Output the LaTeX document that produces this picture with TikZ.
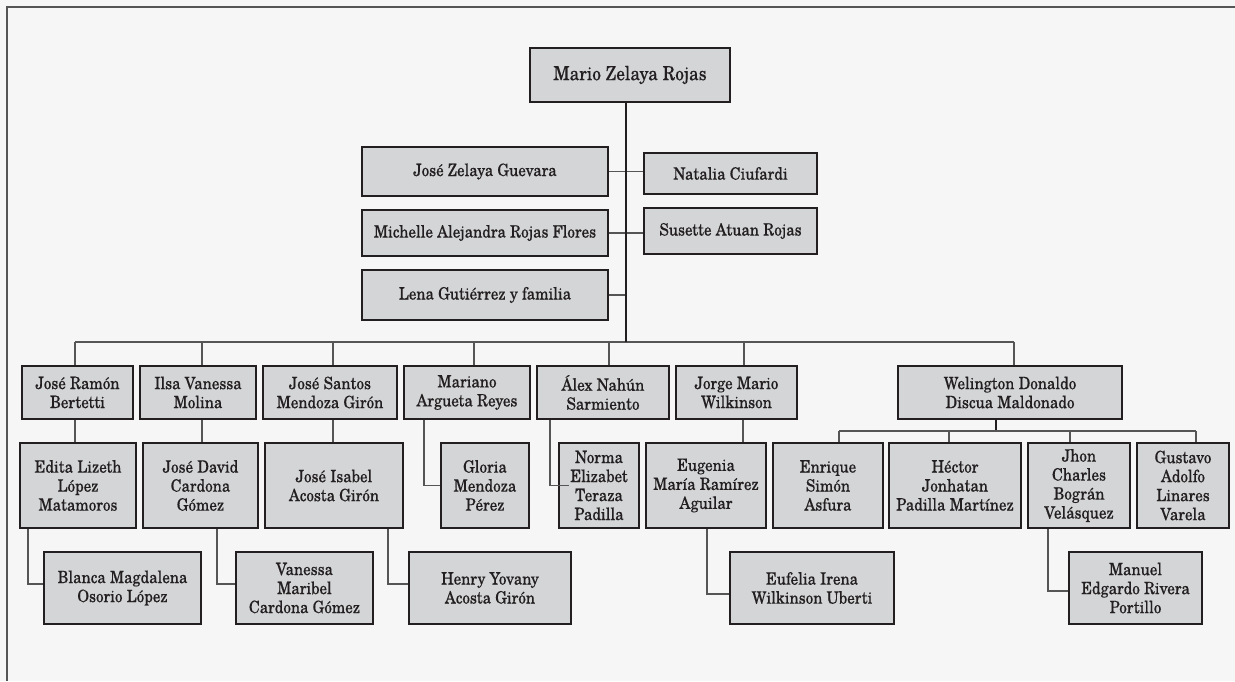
\documentclass[tikz,border=0pt]{standalone}
\usepackage{fontspec}
\setmainfont{TeX Gyre Schola}[FakeStretch=0.885, FakeBold=0.3]
\usetikzlibrary{calc}
\definecolor{bg}{HTML}{F6F6F6}
\definecolor{boxfill}{HTML}{D4D5D7}
\definecolor{boxline}{HTML}{231F20}
\definecolor{conn}{HTML}{555555}
\tikzset{
  pbox/.style={draw=boxline, fill=boxfill, line width=2.6pt, align=center, inner sep=0pt,
    font=\fontsize{17}{19}\selectfont, text=boxline},
  thin/.style={draw=conn, line width=1.1pt},
  trunk/.style={draw=boxline, line width=2.6pt},
}
\begin{document}
\begin{tikzpicture}[x=1pt,y=-1pt]
\useasboundingbox (0,0) rectangle (1235,681);
\fill[bg] (0,0) rectangle (1235,681);
\draw[conn, line width=2pt] (7,681) -- (7,7) -- (1235,7);

% boxes
\newcommand{\pb}[5]{\node[pbox, minimum width=#3pt, minimum height=#4pt] (#1) at (#2) {#5};}
\node[pbox, minimum width=200pt, minimum height=54pt, font=\fontsize{19.5}{22}\selectfont] (mario) at (630,75) {Mario Zelaya Rojas};
\pb{jzg}{485,171.5}{246}{49}{José Zelaya Guevara}
\pb{nat}{730.5,173.5}{173}{41}{Natalia Ciufardi}
\pb{mic}{485,233}{246}{46}{Michelle Alejandra Rojas Flores}
\pb{sus}{730.5,231}{173}{46}{Susette Atuan Rojas}
\pb{lena}{485,295}{246}{50}{Lena Gutiérrez y familia}

\pb{jr}{77.5,392.5}{111}{53}{José Ramón\\Bertetti}
\pb{ilsa}{198,392.5}{116}{53}{Ilsa Vanessa\\Molina}
\pb{jsm}{330,392.5}{134}{53}{José Santos\\Mendoza Girón}
\pb{mar}{467,392.5}{126}{53}{Mariano\\Argueta Reyes}
\pb{alex}{603,392.5}{132}{53}{Álex Nahún\\Sarmiento}
\pb{jorge}{736.5,392.5}{121}{53}{Jorge Mario\\Wilkinson}
\pb{wel}{1010,392.5}{224}{53}{Welington Donaldo\\Discua Maldonado}

\pb{edita}{78,485.5}{116}{85}{Edita Lizeth\\López\\Matamoros}
\pb{jdc}{200.5,485.5}{115}{85}{José David\\Cardona\\Gómez}
\pb{jia}{334,485.5}{138}{85}{José Isabel\\Acosta Girón}
\pb{gloria}{485,485.5}{88}{85}{Gloria\\Mendoza\\Pérez}
\pb{norma}{599,485.5}{80}{85}{Norma\\Elizabet\\Teraza\\Padilla}
\pb{eug}{706,485.5}{120}{85}{Eugenia\\María Ramírez\\Aguilar}
\pb{enr}{828,485.5}{110}{85}{Enrique\\Simón\\Asfura}
\pb{hec}{955,485.5}{132}{85}{Héctor\\Jonhatan\\Padilla Martínez}
\pb{jhon}{1079,485.5}{102}{85}{Jhon\\Charles\\Bográn\\Velásquez}
\pb{gus}{1183,485.5}{92}{85}{Gustavo\\Adolfo\\Linares\\Varela}

\pb{blanca}{122.5,588}{157}{72}{Blanca Magdalena\\Osorio López}
\pb{vmc}{304.5,588}{137}{72}{Vanessa\\Maribel\\Cardona Gómez}
\pb{henry}{490,588}{162}{72}{Henry Yovany\\Acosta Girón}
\pb{eufelia}{812,588}{164}{72}{Eufelia Irena\\Wilkinson Uberti}
\pb{manuel}{1135.5,588}{133}{72}{Manuel\\Edgardo Rivera\\Portillo}

% bus coordinates
\coordinate (bus) at (626,342);
\coordinate (b1) at (75,342);
\coordinate (b2) at (202,342);
\coordinate (b3) at (333,342);
\coordinate (b4) at (474,342);
\coordinate (b5) at (609,342);
\coordinate (b6) at (744,342);
\coordinate (b7) at (1014,342);
\coordinate (sb) at (996,431);
\coordinate (s1) at (839,431);
\coordinate (s2) at (949,431);
\coordinate (s3) at (1070,431);
\coordinate (s4) at (1196,431);

% spouses / side
\draw[thin] (jzg.east) -- (jzg.east -| nat.west);
\draw[thin] (mic.east) -- (mic.east -| sus.west);
\draw[thin] (lena.east) -- (lena.east -| bus);
% main bus
\draw[thin] (b1) -- (b7);
\foreach \b/\n in {b1/jr,b2/ilsa,b3/jsm,b4/mar,b5/alex,b6/jorge,b7/wel}
  \draw[thin] (\b) -- (\b |- \n.north);
% trunk
\draw[trunk] (mario.south -| bus) -- (bus);
% row1 -> row2 straight
\draw[thin] (jr.south -| b1) -- (b1 |- edita.north);
\draw[thin] (ilsa.south -| b2) -- (b2 |- jdc.north);
\draw[thin] (jsm.south -| b3) -- (b3 |- jia.north);
\draw[thin] (jorge.south -| 743,0) -- (743,0 |- eug.north);
% welington sub bus
\draw[trunk, line width=2.4pt] (wel.south -| sb) -- (sb);
\draw[thin] (s1) -- (s4);
\draw[thin] (s1) -- (s1 |- enr.north);
\draw[thin] (s2) -- (s2 |- hec.north);
\draw[thin] (s3) -- (s3 |- jhon.north);
\draw[thin] (s4) -- (s4 |- gus.north);
% elbows
\draw[thin] (edita.south -| 28,0) |- ($(blanca.west)+(0,-4)$);
\draw[thin] (jdc.south -| 217,0) |- ($(vmc.west)+(0,-4)$);
\draw[thin] (jia.south -| 388,0) |- ($(henry.west)+(0,-4)$);
\draw[thin] (mar.south -| 424,0) |- (gloria.west);
\draw[thin] (alex.south -| 550,0) |- ($(norma.west)+(11,0)$);
\draw[thin] (eug.south -| 707,0) |- ($(eufelia.west)+(0,6)$);
\draw[thin] (jhon.south -| 1048,0) |- ($(manuel.west)+(0,3)$);
\end{tikzpicture}
\end{document}
